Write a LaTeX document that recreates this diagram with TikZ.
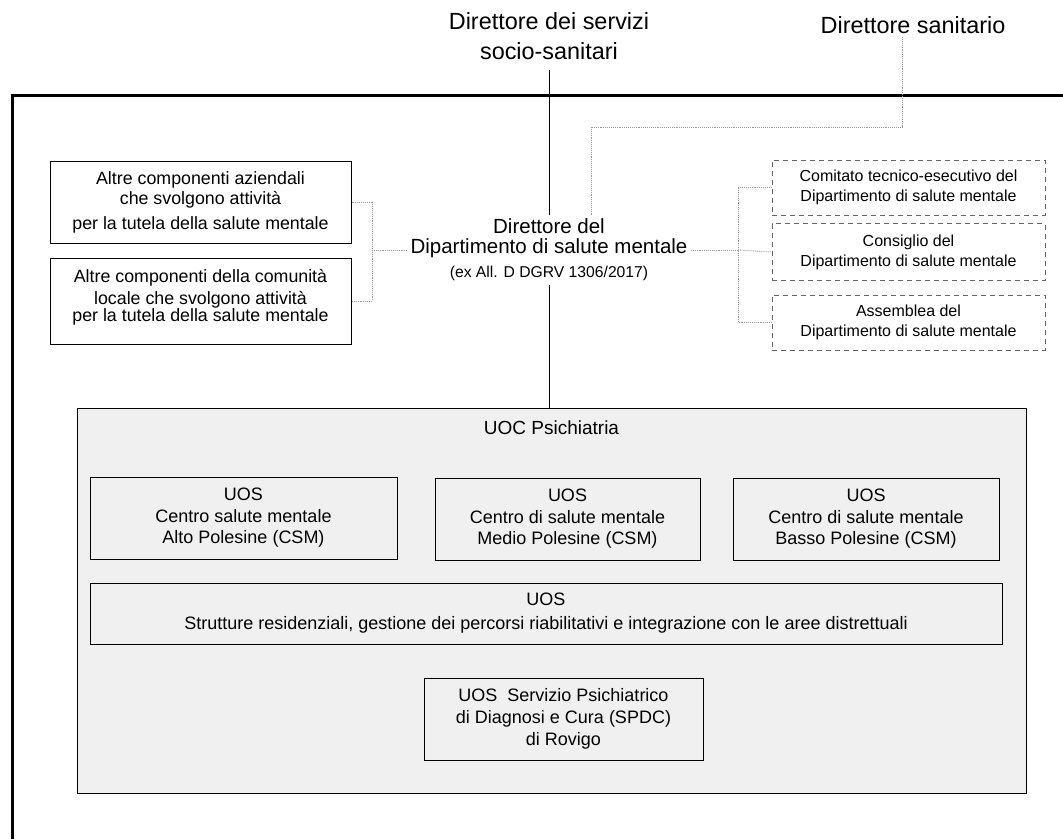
\documentclass[tikz,border=0pt]{standalone}
\usepackage{fontspec}
\setmainfont{Liberation Sans}
\usetikzlibrary{positioning}

\begin{document}
\begin{tikzpicture}[x=1pt, y=-1pt,
  box/.style={draw, line width=1pt, align=center, inner sep=0pt},
  dashbox/.style={draw=black!60, dash pattern=on 5pt off 4pt, line width=1pt, align=center, inner sep=0pt, font=\fontsize{16}{20}\selectfont},
  uosbox/.style={box, font=\fontsize{18}{21.5}\selectfont},
  link/.style={draw=black!40, densely dotted, line width=0.9pt}]
\useasboundingbox (0,0) rectangle (1063,839);
\draw[line width=3pt] (12,839) -- (12,95) -- (1063,95);

\node[align=center, outer sep=7pt, font=\fontsize{23.4}{30}\selectfont] (dss) at (549,36) {Direttore dei servizi\\socio-sanitari};
\node[font=\fontsize{23.4}{28}\selectfont] (ds) at (913,25) {Direttore sanitario};
\node[align=center, font=\fontsize{20.5}{20}\selectfont] (dsm) at (549,250) {Direttore del\\Dipartimento di salute mentale\\[4pt]{\fontsize{15.7}{17}\selectfont (ex All. D DGRV 1306/2017)}};

\node[box, minimum width=301, minimum height=82, font=\fontsize{17.8}{20}\selectfont] (alt1) at (200.5,202) {Altre componenti aziendali\\che svolgono attività\\[5pt]per la tutela della salute mentale};
\node[box, minimum width=301, minimum height=86, font=\fontsize{17.8}{20}\selectfont] (alt2) at (200.5,301) {Altre componenti della comunità\\[2pt]locale che svolgono attività\\[-3pt]per la tutela della salute mentale\\[-8pt]\mbox{}};

\node[dashbox, minimum width=273, minimum height=55] (cte) at (908.5,187.5) {Comitato tecnico-esecutivo del\\Dipartimento di salute mentale};
\node[dashbox, minimum width=273, minimum height=57] (cons) at (908.5,252) {Consiglio del\\Dipartimento di salute mentale};
\node[dashbox, minimum width=273, minimum height=55] (ass) at (908.5,322.5) {Assemblea del\\Dipartimento di salute mentale};

\node[draw, line width=1pt, fill=black!6, minimum width=949, minimum height=385] (uoc) at (551.5,600.5) {};
\node[font=\fontsize{19}{22}\selectfont, below=10pt of uoc.north] (uoct) {UOC Psichiatria};
\node[uosbox, minimum width=307, minimum height=82] (csma) at (243.5,518) {UOS\\Centro salute mentale\\Alto Polesine (CSM)};
\node[uosbox, minimum width=265, minimum height=82] (csmm) at (567.5,519) {UOS\\Centro di salute mentale\\Medio Polesine (CSM)};
\node[uosbox, minimum width=266, minimum height=82] (csmb) at (866,519) {UOS\\Centro di salute mentale\\Basso Polesine (CSM)};
\node[uosbox, minimum width=912, minimum height=61, font=\fontsize{18}{24}\selectfont] (resid) at (546,613.5) {UOS\\Strutture residenziali, gestione dei percorsi riabilitativi e integrazione con le aree distrettuali};
\node[uosbox, minimum width=279, minimum height=82, font=\fontsize{18}{22}\selectfont] (spdc) at (563.5,719) {UOS~~Servizio Psichiatrico\\di Diagnosi e Cura (SPDC)\\di Rovigo};

\coordinate (lj) at (372,250);
\coordinate (rj) at (738,250);
\draw[line width=0.9pt] (dss) -- (dsm);
\draw[line width=0.9pt] (dsm.south) -- (dsm.south |- uoc.north);
\draw[link] (ds.south -| 902,0) -- (902,127) -| (dsm.north -| 591,0);
\draw[link] (alt1.east) -| (lj) |- (alt2.east);
\draw[link] (lj) -- (dsm.west);
\draw[link] (dsm.east) -- (rj);
\draw[link] (cte.west) -| (rj) |- (ass.west);
\draw[link] (rj) -- (cons.west);
\end{tikzpicture}
\end{document}
